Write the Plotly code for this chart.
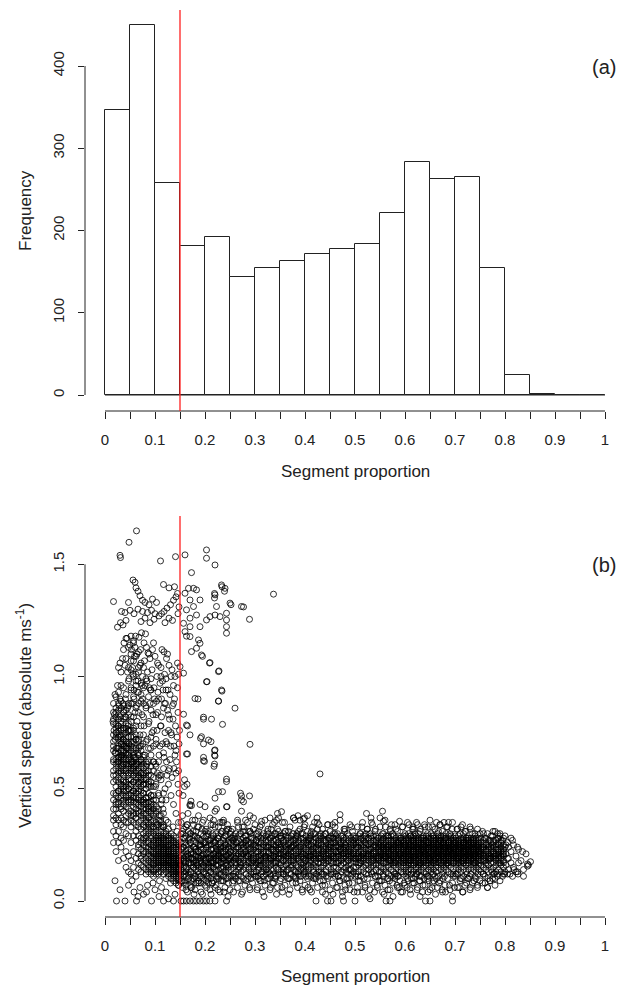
import plotly.graph_objects as go

# ---------------- Histogram data (panel a) ----------------
bin_edges = [0.0, 0.05, 0.1, 0.15, 0.2, 0.25, 0.3, 0.35, 0.4, 0.45, 0.5,
             0.55, 0.6, 0.65, 0.7, 0.75, 0.8, 0.85, 0.9, 0.95, 1.0]
counts = [347, 450, 258, 181, 192, 143, 154, 163, 171, 178, 184,
          221, 283, 263, 265, 155, 24, 1, 0, 0]

x_major = [0.0, 0.1, 0.2, 0.3, 0.4, 0.5, 0.6, 0.7, 0.8, 0.9, 1.0]
x_major_text = ["0", "0.1", "0.2", "0.3", "0.4", "0.5", "0.6", "0.7", "0.8", "0.9", "1"]
x_minor = [0.05, 0.15, 0.25, 0.35, 0.45, 0.55, 0.65, 0.75, 0.85, 0.95]
freq_ticks = [0, 100, 200, 300, 400]
speed_ticks = [0.0, 0.5, 1.0, 1.5]
speed_ticktext = ["0.0", "0.5", "1.0", "1.5"]
threshold = 0.15

# ---------------- Scatter data (panel b) ----------------
# individual points: (segment proportion x1000, vertical speed m/s x1000)
left_pts = [
 (63,1649),(48,1598),(31,1530),(30,1540),(111,1515),(141,1534),(17,1334),(56,1430),(47,1330),
 (60,1420),(62,1395),(66,1380),(70,1360),(75,1340),(80,1330),(88,1320),(95,1345),(103,1330),
 (117,1410),(128,1395),(139,1400),(145,1370),(142,1355),(137,1340),(131,1320),(124,1305),
 (118,1290),(113,1280),(108,1270),(33,1290),(40,1285),(50,1295),(58,1280),(66,1300),(75,1290),
 (85,1285),(93,1295),(100,1280),(25,1220),(31,1240),(36,1230),(42,1250),(72,1245),(80,1260),
 (90,1240),(98,1255),(120,1240),(128,1260),(135,1250),(146,1280),(148,1310),
 (38,1150),(44,1170),(50,1140),(53,1120),(57,1160),(60,1130),(64,1100),(68,1175),(73,1195),
 (78,1150),(83,1130),(86,1105),(90,1080),(95,1120),(100,1090),(105,1060),(112,1040),(118,1110),
 (123,1080),(128,1050),(134,1030),(140,1000),(145,1060),(147,1010),(30,1060),(35,1080),(40,1050),
 (45,1020),(48,990),(52,1070),(55,1040),(62,1010),(66,980),(70,1050),(75,1000),(80,960),(85,1020),
 (92,990),(98,950),(104,1000),(110,970),(116,940),(122,990),(130,920),(137,960),(25,960),(20,920),
 (58,940),(72,920),
 (16,800),(18,760),(20,720),(22,840),(24,680),(26,780),(28,870),(29,740),(31,820),(33,700),
 (34,650),(36,880),(37,760),(39,690),(40,820),(42,730),(43,610),(45,860),(46,780),(48,700),
 (49,640),(20,660),(25,620),(30,900),(35,600),(41,900),(47,880),(23,750),(27,690),(32,770),
 (38,850),(44,680),(50,760),(19,830),(28,640),(36,720),
 (52,820),(54,700),(55,880),(57,760),(59,640),(60,840),(62,720),(64,800),(66,660),(68,880),
 (70,740),(72,620),(74,830),(76,700),(78,780),(80,650),(82,860),(85,720),(88,800),(91,680),
 (94,750),(97,620),(53,620),(58,900),(63,610),(69,690),(75,900),(84,610),(90,880),(96,830),
 (102,720),(105,840),(108,650),(111,780),(115,700),(119,880),(123,620),(127,760),(131,690),
 (136,810),(140,650),(144,730),(113,900),(125,850),(148,700),
 (101,510),(103,420),(105,570),(107,470),(109,380),(112,540),(114,450),(117,590),(120,500),
 (124,560),(129,590),(134,550),(138,590),(146,520),(148,480),(142,570),(111,360),(116,410),
 (104,340),(116,330),(126,350),(136,330),(144,310),(109,90),(131,80),(147,70),
 (23,0),(40,0),(63,0),(93,0),(117,0),(137,0),(30,50),(47,70),(58,40),(70,60),(77,30),(85,70),
 (100,50),(108,20),(122,40),(127,10),(140,30),(20,90),(54,90),(66,20),(83,40),(96,80),(113,60),
 (101,610),(104,760),(106,930),(109,560),(110,690),(113,820),(115,980),(118,640),(120,750),
 (121,880),(124,700),(126,940),(129,810),(130,630),(133,740),(135,870),(138,690),(141,780),
 (143,620),(146,840),(149,760),(139,900),(132,1000),(127,580),(107,1050),(114,1120),(103,890),
 (119,1010),(125,1100),(145,950),
 (52,950),(56,1010),(59,1090),(61,1180),(65,930),(67,1040),(71,1120),(74,960),(79,1070),
 (81,1190),(84,980),(88,1100),(91,940),(94,1030),(97,1150),(99,900),(63,870),(77,880),(89,950),
]

upper_pts = [
 (160,1542),(203,1564),(203,1527),(220,1497),(173,1463),(167,1393),(177,1393),(183,1386),
 (160,1371),(170,1341),(190,1341),(163,1297),(177,1312),(183,1274),(170,1260),(157,1237),
 (170,1222),(160,1200),(170,1178),(190,1222),(203,1252),(210,1267),(220,1274),(223,1312),
 (220,1364),(233,1408),(240,1393),(250,1327),(243,1282),(243,1252),(243,1222),(243,1193),
 (230,1267),(273,1312),(289,1255),(187,1163),(190,1148),(163,1180),(173,1111),(183,1126),
 (193,1096),(210,1062),(227,1022),(203,977),(157,1015),(150,1044),(233,940),(180,902),
 (227,891),(260,859),(197,819),(157,832),(235,787),(193,732),(207,717),(290,698),(163,784),
 (170,740),(337,1367),(277,1310),(252,1320),(234,1400),(239,1380),(219,1370),(219,1350),
 (163,655),(197,625),(199,622),(220,673),(220,646),(218,600),(430,566),(243,532),(227,487),
 (235,487),(220,458),(273,468),(289,468),(277,442),(243,420),(170,430),(173,425),(159,510),
 (159,540),(200,420),(187,380),(180,360),(220,400),(237,360),(273,400),(290,380),(297,370),
 (313,355),(330,370),(343,360),(353,398),(377,370),(397,365),(470,385),(345,390),(386,380),
 (405,380),(399,370),(523,390),(532,370),(555,400),(550,370),(557,355),(589,355),(663,350),
 (678,350),(687,350),(790,290),(812,280),
 (164,520),(156,470),(172,445),(170,425),(190,430),(165,780),(165,655),(186,900),(195,1090),
 (191,725),(197,700),(197,810),(197,640),(213,810),(212,710),(219,670),(219,650),(219,610),
 (204,977),(209,1060),(228,1025),(234,935),(227,890),(243,543),(271,480),(273,450),(244,420),
 (223,410),
]

zero_pts = [
 (152,0),(157,0),(163,0),(170,0),(177,0),(183,0),(190,0),(197,0),(203,0),(210,0),(220,0),(243,0),
 (422,0),(445,0),(452,0),(477,0),(500,0),(530,10),(562,0),(570,0),(641,0),(650,0),(695,0),(695,20),
 (318,20),(343,30),(368,30),(413,40),(441,30),(456,30),(475,20),(527,20),(558,30),(576,20),
 (611,30),(630,20),(661,30),(716,40),
]

# column samples: segment proportion (x1000) -> vertical speeds (m/s x100)
left_cols = {
 17: [45,53,62,71,79,38,84,67,56,48,31,26,74,88,41,63,36,81,58,69],
 22: [41,47,56,63,73,82,59,37,44,68,77,51,86,29,34,61,91,48,66,75,22,54,79,43],
 27: [43,49,58,66,76,85,39,46,62,72,78,55,88,31,36,64,93,44,53,60,73,81,26,18,104,49,68,57,83],
 32: [37,46,52,61,70,76,86,41,50,57,64,73,80,89,34,42,59,67,71,28,24,96,102,51,63,54,79,47,65,58],
 37: [36,45,51,61,67,77,84,40,49,56,63,72,81,87,33,47,54,64,70,95,27,19,112,58,66,50,43,74,62,53,69],
 42: [38,47,53,63,69,79,85,42,51,58,65,75,82,35,44,57,61,68,92,30,22,15,108,117,53,66,77,49,59,71,46],
 47: [35,44,50,60,66,76,83,39,47,54,63,70,79,87,41,52,65,73,98,29,20,13,104,113,57,45,61,68,50,76,56],
 52: [36,45,51,61,67,76,40,48,57,63,73,80,88,33,44,58,61,69,94,26,18,12,103,110,118,54,62,47,59,71,38,52],
 57: [38,47,53,62,71,77,42,49,59,66,73,82,35,46,58,64,91,29,22,15,100,107,115,53,65,44,56,68,49,39,60],
 62: [37,44,54,61,68,78,41,50,57,64,74,86,34,46,55,63,96,27,19,11,98,109,58,43,51,67,72,60,39,31,48],
 67: [40,49,55,65,71,39,46,56,62,72,84,35,43,52,59,93,25,17,24,102,111,45,53,61,68,58,33,29,21,14,50],
 72: [38,45,54,63,69,42,51,57,67,78,36,44,53,60,89,28,20,16,23,97,106,47,55,63,40,32,26,19,13,57,49],
 77: [41,48,57,64,45,54,61,74,37,43,52,59,82,30,22,18,25,95,104,48,56,39,34,27,21,15,44,52,33,28,65],
 82: [39,46,55,62,43,52,58,71,35,41,50,57,87,31,24,19,14,26,99,46,54,38,33,29,22,17,12,44,36,28,60],
 87: [42,51,58,46,53,68,37,44,52,79,32,26,20,15,23,91,48,40,35,30,24,18,13,41,34,27,21,16,56,62],
 92: [40,47,56,44,53,65,36,43,51,85,31,25,19,14,22,94,47,39,33,28,23,17,12,42,35,29,20,15,60,73],
 97: [43,51,47,55,62,38,45,76,33,27,21,16,24,88,41,36,30,25,19,14,11,39,32,26,18,22,58,69,17,13],
 102: [45,52,40,60,35,28,22,17,25,83,39,31,26,20,15,12,33,27,21,18,14,29,23,19,70],
 107: [48,41,55,34,29,23,18,26,30,24,19,15,12,36,27,21,16,28,22,17,13,20,62,90],
 112: [43,38,33,28,22,18,25,31,26,20,16,13,35,27,21,17,29,23,19,15,24,56,78,100],
 117: [39,33,27,22,18,26,30,24,19,15,12,34,28,21,17,25,20,16,23,14,48,66,86],
 122: [36,30,24,19,16,27,31,25,20,17,13,29,22,18,26,21,15,23,19,10,45,71,94],
 127: [32,27,22,18,15,25,29,23,19,16,12,28,21,17,24,20,14,22,18,11,52,83],
 132: [30,25,21,17,14,26,28,22,18,15,12,27,20,16,23,19,13,21,17,10,47,75],
 137: [29,24,20,16,13,25,27,21,17,14,11,26,19,15,22,18,12,20,16,9,43,88],
 142: [28,23,19,15,12,24,26,20,16,13,10,25,18,14,21,17,11,19,15,8,39,67],
 147: [27,22,18,14,11,23,25,19,15,12,9,24,17,13,20,16,10,18,14,7,35,58],
}

band_cols = {
 152: [16,23,9,30,18,12,26,20,14,35], 157: [21,13,28,17,8,24,19,32,11,15],
 162: [18,25,11,22,15,29,7,20,13,33], 167: [14,20,27,10,23,17,31,12,19,25],
 172: [22,16,9,26,19,13,30,21,6,17], 177: [17,24,12,29,15,21,10,27,18,34],
 182: [20,14,26,11,23,18,8,31,16,22], 187: [15,22,19,28,12,25,9,17,33,20],
 192: [23,17,11,27,20,14,30,8,24,18], 197: [19,26,13,21,16,29,10,23,15,36],
 202: [18,24,12,29,21,15,9,26,19,32], 207: [22,16,27,11,19,25,14,31,17,8],
 212: [17,23,13,28,20,10,25,18,34,15], 217: [21,15,26,19,12,29,23,9,17,27],
 222: [16,24,20,11,27,18,13,30,22,7], 227: [23,18,14,28,21,10,25,16,33,19],
 232: [19,26,12,22,17,30,15,24,9,20], 237: [15,21,27,13,24,19,11,28,18,35],
 242: [22,17,25,10,20,29,14,23,16,31], 247: [18,24,13,27,21,15,32,19,8,26],
 252: [20,14,28,17,23,11,26,19,31,16], 257: [24,18,12,25,20,29,15,22,9,27],
 262: [17,23,19,30,13,26,21,16,10,24], 267: [21,15,27,18,24,12,29,20,14,33],
 272: [19,25,13,22,17,30,11,26,20,16], 277: [23,18,28,14,21,26,10,24,17,31],
 282: [16,22,19,27,12,25,20,29,15,9], 287: [20,26,14,23,18,31,11,21,25,17],
 292: [24,17,21,28,13,19,26,10,22,30], 297: [18,23,15,27,20,12,25,19,32,16],
 302: [21,16,27,13,24,19,30,11,22,17,26], 307: [17,24,20,29,14,22,10,26,18,31,15],
 312: [23,18,12,26,21,16,28,20,9,24,19], 317: [19,25,15,22,28,13,21,17,30,11,24],
 322: [16,22,27,18,24,12,20,29,14,26,19], 327: [24,19,13,25,17,30,22,10,27,21,15],
 332: [20,26,16,23,11,28,19,24,14,32,18], 337: [22,17,29,14,25,20,12,27,19,23,8],
 342: [18,24,20,30,15,22,27,11,25,17,21], 347: [25,19,14,26,21,17,31,23,12,28,20],
 352: [17,23,28,19,13,25,21,16,29,10,24], 357: [21,27,15,22,18,30,12,26,20,24,14],
 362: [24,18,22,13,27,20,16,29,11,23,19], 367: [19,25,14,28,21,17,23,10,26,20,31],
 372: [22,16,26,20,12,24,29,18,15,27,21], 377: [18,24,19,30,14,22,27,11,25,17,20],
 382: [25,20,13,23,28,16,21,26,10,19,29], 387: [20,15,27,22,18,31,13,24,19,26,12],
 392: [23,28,17,21,14,25,20,30,16,22,11], 397: [16,22,26,19,24,12,28,21,17,27,14],
 402: [21,26,18,13,23,29,20,15,25,11,19], 407: [24,19,28,16,22,14,27,20,12,25,18],
 412: [18,23,20,27,15,25,11,22,29,17,21], 417: [22,27,14,19,24,16,30,21,13,26,20],
 422: [19,24,21,12,28,18,23,26,15,20,10], 427: [25,17,22,29,20,14,26,19,23,11,27],
 432: [20,26,15,23,19,28,13,21,25,17,30], 437: [17,22,27,18,24,12,20,29,16,23,21],
 442: [23,19,13,26,21,30,17,24,14,20,27], 447: [21,27,18,23,15,25,20,11,28,19,24],
 452: [18,24,20,29,14,22,26,17,12,25,21], 457: [24,19,26,15,21,28,13,23,20,17,30],
 462: [20,25,17,22,27,12,24,19,29,15,22], 467: [22,18,28,21,14,26,20,24,11,27,17],
 472: [19,23,16,25,20,29,13,22,26,18,24], 477: [26,21,14,24,19,27,17,23,10,20,28],
 482: [17,24,20,28,15,22,26,19,13,25,21], 487: [23,18,27,21,16,24,12,29,20,22,14],
 492: [21,26,19,14,23,28,17,25,20,11,24], 497: [18,22,27,20,25,15,21,29,13,19,26],
 502: [24,19,15,26,21,28,17,23,12,25,20], 507: [20,26,22,17,24,13,27,19,29,16,21],
 512: [22,17,25,20,28,14,23,19,26,11,18], 517: [19,24,21,27,15,22,29,18,25,13,20],
 522: [25,20,16,23,19,28,12,26,21,17,30], 527: [18,23,27,21,14,25,20,28,16,22,12],
 532: [23,28,19,15,24,21,26,17,29,20,13], 537: [20,16,25,22,27,18,13,24,21,29,19],
 542: [26,21,17,24,19,29,14,22,27,20,16], 547: [19,24,20,28,16,22,26,11,23,18,25],
 552: [22,18,26,21,15,27,23,19,29,13,20,24,17,25],
 557: [19,25,20,14,28,22,17,26,21,11,24,18,30,23],
 562: [24,20,27,17,22,29,15,21,25,19,13,26,20,23],
 567: [21,16,23,28,19,25,12,22,27,18,24,20,15,29],
 572: [18,24,21,26,14,20,29,23,17,25,19,27,22,11],
 577: [25,19,22,17,27,23,20,13,26,21,29,16,24,18],
 582: [20,27,15,24,21,18,28,22,25,12,19,23,26,17],
 587: [23,18,26,20,29,16,22,25,14,21,27,19,24,11],
 592: [19,24,21,27,17,23,20,28,15,26,22,13,25,18],
 597: [22,26,18,23,20,29,16,24,21,27,12,19,25,17],
 602: [20,24,17,27,22,15,25,19,29,21,13,23,18,26,11,22,28,16],
 607: [23,18,26,21,16,28,20,24,13,22,27,19,25,17,30,21,14,23],
 612: [19,25,22,17,27,20,14,24,29,18,23,21,26,12,20,16,25,22],
 617: [24,20,16,26,22,29,18,23,13,21,27,19,25,17,22,10,28,20],
 622: [21,27,19,24,15,22,28,20,17,25,12,23,26,18,21,29,14,24],
 627: [18,23,26,20,28,16,22,25,19,13,27,21,24,17,30,20,23,15],
 632: [25,21,17,23,19,27,14,24,20,28,22,16,26,11,21,25,18,23],
 637: [20,26,22,18,29,21,15,24,27,19,23,13,25,20,17,28,22,24],
 642: [23,17,25,21,13,27,20,24,18,29,22,16,26,19,23,12,21,27],
 647: [19,24,28,20,16,23,26,21,14,25,18,22,29,17,24,20,11,26],
 652: [22,26,18,24,21,15,28,20,25,17,23,30,19,13,22,27,21,16],
 657: [24,19,23,27,17,21,25,14,22,29,20,26,18,23,12,24,20,28],
 662: [20,25,21,16,26,22,28,19,24,13,21,27,17,23,25,19,15,22],
 667: [17,23,27,20,24,18,22,29,15,25,21,19,26,11,23,20,28,24],
 672: [23,20,16,25,22,28,19,24,21,14,27,18,23,26,20,29,17,22],
 677: [21,26,23,18,27,20,15,24,22,29,19,25,13,21,24,17,26,20],
 682: [25,19,22,28,17,23,26,20,14,24,21,27,18,22,30,16,23,19],
 687: [18,24,20,26,22,16,29,21,25,19,13,23,27,20,24,17,22,26],
 692: [22,27,19,23,15,25,21,28,18,24,20,12,26,22,17,23,29,21],
 697: [20,23,26,18,24,21,14,27,22,19,25,17,28,20,23,11,24,21],
 702: [24,19,22,17,26,20,28,23,15,21,25,18,24,12,22,27,20,19],
 707: [19,25,21,27,18,23,16,24,20,29,22,14,26,21,17,23,25,20],
 712: [22,18,26,20,24,15,22,28,19,25,21,17,23,27,13,20,24,21],
 717: [21,26,19,23,17,28,21,25,14,22,20,26,18,24,22,11,27,19],
 722: [17,23,25,20,27,19,24,13,22,26,18,21,28,16,23,20,25,22],
 727: [25,20,22,18,24,27,16,21,23,19,26,14,22,25,20,28,17,23],
 732: [20,24,19,26,21,15,25,22,28,18,23,20,12,24,27,19,22,26],
 737: [23,18,25,21,28,20,24,17,22,26,14,23,19,25,21,16,27,20],
 742: [19,22,26,17,23,27,20,24,13,21,25,18,22,28,20,15,23,24],
 747: [24,21,18,25,20,23,16,27,22,19,26,21,14,24,20,28,17,22],
 752: [20,23,16,26,21,13,24,18,28,22], 757: [18,24,21,15,27,20,23,12,25,19],
 762: [22,17,25,20,14,26,19,23,28,16], 767: [19,25,21,16,23,27,13,20,24,18],
 772: [23,20,17,26,21,14,24,19,29,22], 777: [17,22,26,19,24,15,21,27,20,12],
 782: [24,19,21,27,16,23,18,25,13,20], 787: [20,25,17,22,28,19,14,23,21,26],
 792: [22,16,24,20,13,26,19,23,18,27], 797: [18,23,20,25,15,21,28,17,22,12],
 802: [21,16,25], 807: [19,24,14], 812: [22,17], 817: [15,25], 822: [20,13],
 827: [23,17], 832: [18], 837: [14], 842: [21], 847: [16],
}

# band edges (upper fringe, lower fringe, middle): x1000 -> m/s x100
band_edge_cols = {
 155: [31,6,24], 160: [28,9,17], 165: [34,4,21], 170: [30,7,26], 175: [36,10,19],
 180: [29,5,23], 185: [33,8,16], 190: [27,11,25], 195: [35,3,20], 200: [31,7,18],
 205: [29,10,24], 210: [37,5,21], 215: [30,8,17], 220: [33,6,26], 225: [28,11,20],
 230: [35,4,23], 235: [31,9,19], 240: [29,6,25], 245: [34,10,18], 250: [30,5,22],
 255: [32,8,27], 260: [28,11,19], 265: [36,6,24], 270: [30,9,17], 275: [33,4,21],
 280: [29,7,26], 285: [35,10,20], 290: [31,5,23], 295: [28,8,18], 300: [34,11,25],
 305: [30,6,22], 310: [33,9,18], 315: [29,4,27], 320: [36,7,20], 325: [31,10,24],
 330: [28,5,19], 335: [34,8,23], 340: [30,11,17], 345: [32,6,26], 350: [29,9,21],
 355: [35,4,18], 360: [31,7,25], 365: [28,10,20], 370: [33,5,23], 375: [30,8,16],
 380: [36,11,27], 385: [29,6,19], 390: [32,9,24], 395: [30,4,21], 400: [34,7,18],
 405: [31,10,26], 410: [28,5,20], 415: [33,8,23], 420: [30,11,17], 425: [35,6,25],
 430: [29,9,19], 435: [32,4,22], 440: [30,7,27], 445: [34,10,18], 450: [31,5,24],
 455: [28,8,20], 460: [33,11,26], 465: [30,6,17], 470: [36,9,23], 475: [29,4,21],
 480: [32,7,25], 485: [30,10,18], 490: [34,5,22], 495: [31,8,27], 500: [28,11,19],
 505: [33,6,24], 510: [30,9,17], 515: [35,4,21], 520: [29,7,26], 525: [32,10,20],
 530: [30,5,23], 535: [34,8,18], 540: [31,11,25], 545: [28,6,19], 550: [33,9,22],
 555: [30,4,27], 560: [36,7,20], 565: [29,10,24], 570: [32,5,18], 575: [30,8,23],
 580: [34,11,17], 585: [31,6,26], 590: [28,9,21], 595: [33,4,19], 600: [30,7,25],
 605: [35,10,22], 610: [29,5,18], 615: [32,8,27], 620: [30,11,20], 625: [34,6,24],
 630: [31,9,17], 635: [28,4,23], 640: [33,7,21], 645: [30,10,26], 650: [36,5,19],
 655: [29,8,25], 660: [32,11,18], 665: [30,6,22], 670: [34,9,27], 675: [31,4,20],
 680: [28,7,24], 685: [33,10,17], 690: [30,5,23], 695: [35,8,21], 700: [29,11,26],
 705: [32,6,19], 710: [30,9,24], 715: [34,4,18], 720: [31,7,22], 725: [28,10,27],
 730: [33,5,20], 735: [30,8,23], 740: [29,11,17], 745: [32,6,25], 750: [30,9,21],
 755: [31,8,24], 760: [28,11,18], 765: [30,6,22], 770: [27,9,19], 775: [29,10,25],
 780: [31,7,20], 785: [28,12,23], 790: [30,9,17], 795: [27,11,21], 800: [29,13,24],
 805: [26,12,19], 815: [27,11], 825: [24,13], 835: [22],
}

band_pts = [
 (151,160),(153,230),(154,90),(156,300),(157,180),(159,120),(160,260),(161,200),(163,140),
 (164,340),(165,210),(167,100),(168,170),(169,280),(171,130),(172,230),(173,60),(175,190),
 (176,310),(177,150),(179,240),(180,110),(181,200),(183,170),(184,280),(186,130),(187,220),
 (188,80),(190,190),(191,250),(193,150),(194,320),(196,210),(197,120),(199,260),(155,380),
 (166,390),(178,30),(192,40),(162,50),
 (201,170),(202,250),(204,110),(205,210),(206,300),(207,150),(209,190),(210,270),(211,130),
 (213,230),(214,80),(215,180),(216,340),(218,210),(219,140),(220,260),(222,190),(223,100),
 (224,230),(225,160),(227,290),(228,200),(229,120),(231,240),(232,170),(233,310),(235,140),
 (236,220),(237,90),(239,180),(240,260),(241,130),(243,200),(244,320),(245,160),(247,230),
 (248,110),(249,190),(203,60),(212,30),(226,50),(238,40),(246,20),(217,360),(234,350),
 (251,220),(254,280),(256,110),(259,170),(262,200),(264,260),(267,90),(270,150),(272,210),
 (275,250),(278,330),(280,220),(283,270),(286,200),(288,150),(290,310),(292,120),(295,170),
 (298,130),(257,40),(273,30),(289,60),(265,350),(281,360),
 (303,270),(306,110),(310,160),(314,130),(319,90),(323,140),(326,320),(330,120),(334,290),
 (338,200),(340,100),(345,140),(349,240),(304,50),(331,60),(313,340),(339,350),(347,370),
 (353,280),(356,120),(361,310),(364,140),(369,100),(374,240),(380,130),(384,300),(389,110),
 (395,150),(399,130),(354,60),(382,80),(394,50),(359,350),(377,370),(390,360),(398,330),
 (403,270),(407,110),(411,300),(418,100),(425,320),(428,130),(434,120),(442,110),(449,280),
 (406,60),(435,70),(419,350),(424,370),(446,340),(413,310),(437,90),(428,340),
 (455,120),(460,300),(466,110),(474,130),(479,310),(483,100),(490,140),(495,120),(463,60),
 (481,50),(488,80),(493,330),(498,40),(460,350),(469,90),(478,320),(455,340),
 (506,110),(511,300),(518,100),(524,320),(534,120),(541,110),(549,130),(520,60),(539,40),
 (544,70),(507,90),(514,330),(533,350),(541,320),(548,90),(505,40),
 (556,120),(566,100),(571,310),(579,120),(585,110),(592,130),(566,50),(584,70),(592,40),
 (598,80),(553,90),(561,330),(573,340),(582,320),(595,330),(569,90),(580,100),(588,60),
 (605,120),(613,100),(617,320),(624,120),(629,110),(645,110),(604,60),(618,80),(624,50),
 (636,70),(646,40),(608,340),(616,330),(623,350),(631,320),(639,340),(647,330),(606,90),
 (629,90),(638,100),(648,90),
 (655,120),(663,100),(667,310),(674,120),(679,110),(696,120),(655,330),(670,340),(694,320),
 (683,330),(654,60),(668,80),(674,50),(681,40),(689,70),(699,60),(657,90),(676,100),
 (705,120),(713,100),(717,300),(724,120),(729,110),(746,120),(704,320),(712,330),(722,310),
 (731,320),(740,300),(708,60),(723,80),(731,60),(738,90),(745,70),(711,100),(727,100),(742,100),
 (756,120),(766,100),(774,130),(779,120),(785,110),(799,120),(776,310),(785,300),(760,80),
 (770,90),(780,100),(757,300),(765,60),
 (810,120),(818,140),(826,120),(837,110),(845,165),(845,155),(851,175),
]

seg_prop, vert_speed = [], []
for p in left_pts + upper_pts + zero_pts + band_pts:
    seg_prop.append(p[0] / 1000)
    vert_speed.append(p[1] / 1000)
for cols in (left_cols, band_cols, band_edge_cols):
    for xk, ys in cols.items():
        for yv in ys:
            seg_prop.append(xk / 1000)
            vert_speed.append(yv / 100)

# ---------------- Figure ----------------
W, H = 619, 989
FONT = "Liberation Sans, Arial, Helvetica, sans-serif"
TXT = "#222222"

fig = go.Figure()

bin_centers = [(bin_edges[i] + bin_edges[i + 1]) / 2 for i in range(len(counts))]
bin_widths = [bin_edges[i + 1] - bin_edges[i] for i in range(len(counts))]
fig.add_trace(go.Bar(
    x=bin_centers, y=counts, width=bin_widths,
    marker=dict(color="white", line=dict(color="#222222", width=1)),
    xaxis="x", yaxis="y", showlegend=False, hoverinfo="skip"))

fig.add_trace(go.Scatter(
    x=seg_prop, y=vert_speed, mode="markers",
    marker=dict(symbol="circle-open", size=6, color="rgba(0,0,0,0.8)",
                line=dict(width=1)),
    xaxis="x2", yaxis="y2", showlegend=False, hoverinfo="skip"))

x_dom = [85 / W, 1.0]
x_rng = [-0.04, 1.028]
top_dom = [1 - 411 / H, 1 - 10 / H]
bot_dom = [1 - 917 / H, 1 - 516 / H]

common_x = dict(domain=x_dom, range=x_rng, tickmode="array", tickvals=x_major,
                ticktext=x_major_text, ticks="outside", ticklen=7, tickwidth=1,
                tickcolor="#222222", showline=False, showgrid=False, zeroline=False,
                minor=dict(tickmode="array", tickvals=x_minor, ticks="outside", ticklen=7,
                           tickwidth=1, tickcolor="#222222", showgrid=False),
                tickfont=dict(family=FONT, size=15, color=TXT),
                ticklabelstandoff=8, fixedrange=True)

fig.update_layout(
    width=W, height=H, margin=dict(l=0, r=0, t=0, b=0),
    paper_bgcolor="white", plot_bgcolor="white", bargap=0,
    xaxis=dict(anchor="y", **common_x),
    yaxis=dict(domain=top_dom, range=[-19.45, 468.1], tickmode="array",
               tickvals=freq_ticks, ticks="outside", ticklen=6, tickwidth=1,
               tickcolor="#222222", tickangle=-90, showline=False, showgrid=False,
               zeroline=False, tickfont=dict(family=FONT, size=15, color=TXT),
               ticklabelstandoff=8, anchor="x"),
    xaxis2=dict(anchor="y2", **common_x),
    yaxis2=dict(domain=bot_dom, range=[-0.0713, 1.7152], tickmode="array",
                tickvals=speed_ticks, ticktext=speed_ticktext, ticks="outside",
                ticklen=6, tickwidth=1, tickcolor="#222222", tickangle=-90,
                showline=False, showgrid=False, zeroline=False,
                tickfont=dict(family=FONT, size=15, color=TXT),
                ticklabelstandoff=8, anchor="x2"),
)

line_col = "#222222"
shapes = [
    dict(type="line", xref="x", yref="y", x0=bin_edges[0], x1=bin_edges[-1], y0=0, y1=0,
         line=dict(color=line_col, width=1)),
    dict(type="line", xref="x", yref="y domain", x0=x_major[0], x1=x_major[-1], y0=0, y1=0,
         line=dict(color=line_col, width=1)),
    dict(type="line", xref="x domain", yref="y", x0=0, x1=0, y0=freq_ticks[0], y1=freq_ticks[-1],
         line=dict(color=line_col, width=1)),
    dict(type="line", xref="x2", yref="y2 domain", x0=x_major[0], x1=x_major[-1], y0=0, y1=0,
         line=dict(color=line_col, width=1)),
    dict(type="line", xref="x2 domain", yref="y2", x0=0, x1=0, y0=speed_ticks[0], y1=speed_ticks[-1],
         line=dict(color=line_col, width=1)),
    dict(type="line", xref="x", yref="y domain", x0=threshold, x1=threshold, y0=0, y1=1,
         line=dict(color="#ff2020", width=1.3)),
    dict(type="line", xref="x2", yref="y2 domain", x0=threshold, x1=threshold, y0=0, y1=1,
         line=dict(color="#ff2020", width=1.3)),
]
fig.update_layout(shapes=shapes)

ann_font = dict(family=FONT, size=17, color=TXT)
fig.update_layout(annotations=[
    dict(text="Frequency", textangle=-90, x=25 / W, y=1 - 211 / H, xref="paper", yref="paper",
         showarrow=False, font=ann_font, xanchor="center", yanchor="middle"),
    dict(text="Segment proportion", x=355 / W, y=1 - 472 / H, xref="paper", yref="paper",
         showarrow=False, font=ann_font, xanchor="center", yanchor="middle"),
    dict(text="Vertical speed (absolute ms<sup>-1</sup>)", textangle=-90, x=24 / W,
         y=1 - 716 / H, xref="paper", yref="paper", showarrow=False, font=ann_font,
         xanchor="center", yanchor="middle"),
    dict(text="Segment proportion", x=355 / W, y=1 - 976 / H, xref="paper", yref="paper",
         showarrow=False, font=ann_font, xanchor="center", yanchor="middle"),
    dict(text="(a)", x=604 / W, y=1 - 67 / H, xref="paper", yref="paper",
         showarrow=False, font=dict(family=FONT, size=20, color=TXT),
         xanchor="center", yanchor="middle"),
    dict(text="(b)", x=604 / W, y=1 - 565 / H, xref="paper", yref="paper",
         showarrow=False, font=dict(family=FONT, size=20, color=TXT),
         xanchor="center", yanchor="middle"),
])

fig.write_html("out.html")
